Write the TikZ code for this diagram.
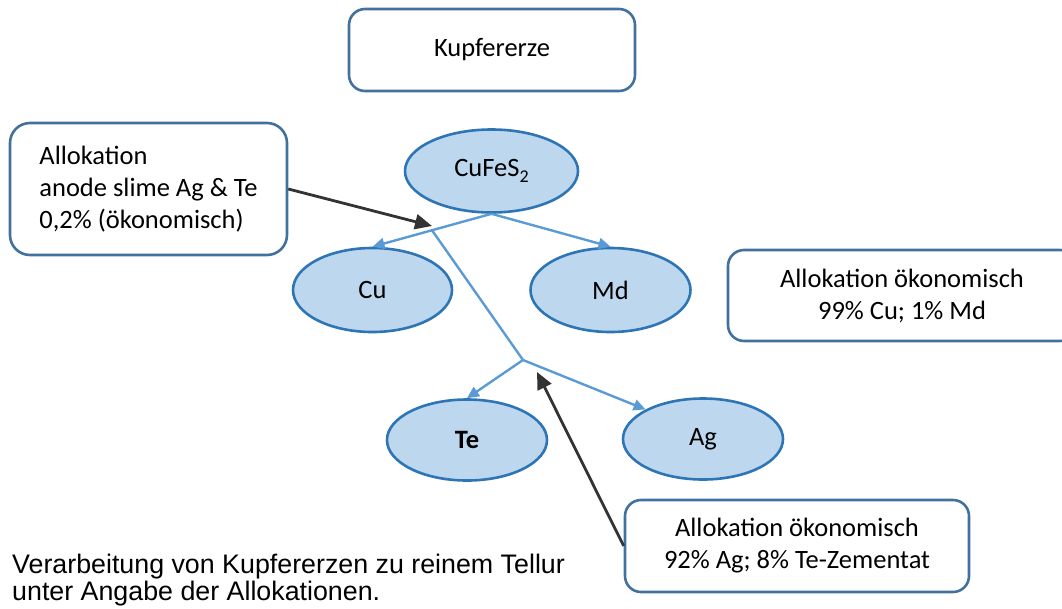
\documentclass[tikz,border=0pt]{standalone}
\usepackage{fontspec}
\setmainfont{Carlito}
\newfontfamily\arialfont{Liberation Sans}
\usetikzlibrary{shapes.geometric,arrows.meta,calc}
\definecolor{boxline}{HTML}{41719C}
\definecolor{ellline}{HTML}{2E75B6}
\definecolor{ellfill}{HTML}{BDD7EE}
\definecolor{flow}{HTML}{5B9BD5}
\definecolor{pointer}{HTML}{333333}
\newcommand{\subtwo}{\raisebox{-0.5ex}{\fontsize{18}{18}\selectfont 2}}

\begin{document}
\begin{tikzpicture}[x=1pt,y=-1pt,
  every node/.style={font=\fontsize{26.5}{32}\selectfont},
  infobox/.style={draw=boxline, line width=2.6pt, rounded corners=16pt, fill=white,
    align=center, inner sep=0pt},
  substance/.style={ellipse, draw=ellline, line width=2.6pt, fill=ellfill, inner sep=0pt},
  flowline/.style={draw=flow, line width=2.4pt},
  flowarrow/.style={flowline, -{Triangle[length=12pt,width=11pt]}},
  pointerarrow/.style={draw=pointer, line width=2.8pt, -{Triangle[length=17pt,width=15pt]}}]
\useasboundingbox (0,0) rectangle (1062,608);

% text boxes
\node[infobox, minimum width=286pt, minimum height=82pt] (ore) at (492,50) {Kupfererze};
\node[infobox, minimum width=277pt, minimum height=132pt, align=left, rounded corners=20pt]
  (anode) at (148.5,189) {Allokation\\anode slime Ag \& Te\\0,2\% (ökonomisch)};
\node[infobox, minimum width=348pt, minimum height=91pt] (cumd) at (902,295.5)
  {Allokation ökonomisch\\99\% Cu; 1\% Md};
\node[infobox, minimum width=344pt, minimum height=92pt] (agte) at (797,546)
  {Allokation ökonomisch\\92\% Ag; 8\% Te-Zementat};

% substances
\node[substance, minimum width=173pt, minimum height=83pt] (cufes) at (491.5,171) {CuFeS\subtwo};
\node[substance, minimum width=159pt, minimum height=84pt] (cu) at (372.5,290) {Cu};
\node[substance, minimum width=160pt, minimum height=84pt] (md) at (610.5,290) {Md};
\node[substance, minimum width=160pt, minimum height=81pt] (te) at (467,440) {\textbf{Te}};
\node[substance, minimum width=160pt, minimum height=81pt] (ag) at (703,439) {Ag};

% material flow
\coordinate (branch) at ($(cufes.south)!0.5!(cu.north)$);
\coordinate (split) at (523,360);
\draw[flowarrow] (cufes.south) -- (cu.north);
\draw[flowarrow] (cufes.south) -- (md.north);
\draw[flowline] (branch) -- (split);
\draw[flowarrow] (split) -- (te.north);
\draw[flowarrow] (split) -- (ag.north west);

% allocation pointers
\coordinate (anodetip) at (432,226);
\coordinate (agtetip) at (537,372);
\draw[pointerarrow] (anode.east) -- (anodetip);
\draw[pointerarrow] (agte.west) -- (agtetip);

% caption
\node[font=\arialfont\fontsize{26.8}{27}\selectfont, align=left, anchor=north west,
  inner sep=0pt] (caption) at (12,554)
  {Verarbeitung von Kupfererzen zu reinem Tellur\\unter Angabe der Allokationen.};
\end{tikzpicture}
\end{document}
